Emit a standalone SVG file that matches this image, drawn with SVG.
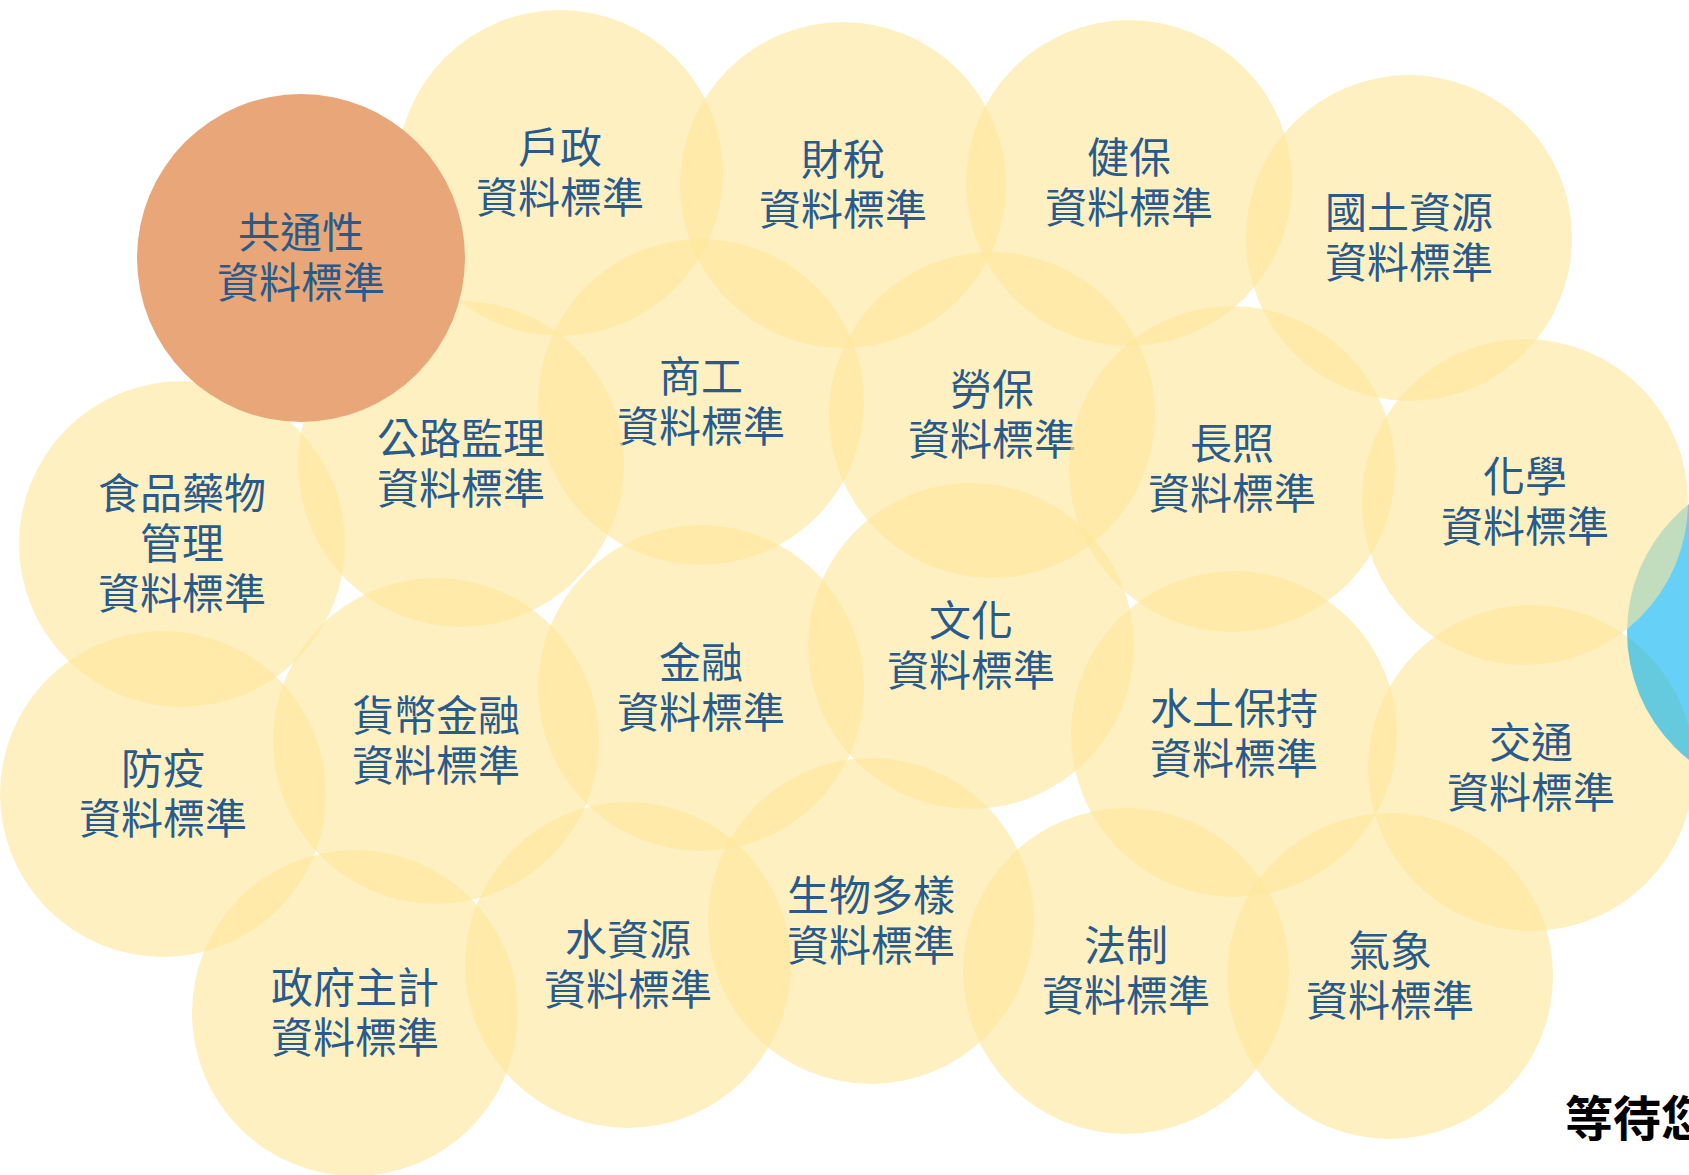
<svg xmlns="http://www.w3.org/2000/svg" width="1689" height="1175" viewBox="0 0 1689 1175">
<style>
.c{fill:#FFE699;fill-opacity:0.6}
.o{fill:#E9A779}
.b{fill:#00B0F0;fill-opacity:0.6}
.t{font-family:"Noto Sans CJK TC","Noto Sans CJK SC",sans-serif;font-size:42px;fill:#285A8C;text-anchor:middle}
.w{font-family:"Noto Sans CJK TC","Noto Sans CJK SC",sans-serif;font-size:48px;font-weight:bold;fill:#000}
</style>
<rect width="1689" height="1175" fill="#fff"/>
<g id="n-huzheng"><circle class="c" cx="560" cy="173" r="163"/><text class="t" x="560" y="163">戶政</text><text class="t" x="560" y="213">資料標準</text></g>
<g id="n-caishui"><circle class="c" cx="843" cy="185" r="163"/><text class="t" x="843" y="175">財稅</text><text class="t" x="843" y="225">資料標準</text></g>
<g id="n-jianbao"><circle class="c" cx="1129" cy="183" r="163"/><text class="t" x="1129" y="173">健保</text><text class="t" x="1129" y="223">資料標準</text></g>
<g id="n-guotu"><circle class="c" cx="1409" cy="238" r="163"/><text class="t" x="1409" y="228">國土資源</text><text class="t" x="1409" y="278">資料標準</text></g>
<g id="n-shanggong"><circle class="c" cx="701" cy="402" r="163"/><text class="t" x="701" y="392">商工</text><text class="t" x="701" y="442">資料標準</text></g>
<g id="n-laobao"><circle class="c" cx="992" cy="415" r="163"/><text class="t" x="992" y="405">勞保</text><text class="t" x="992" y="455">資料標準</text></g>
<g id="n-changzhao"><circle class="c" cx="1232" cy="469" r="163"/><text class="t" x="1232" y="459">長照</text><text class="t" x="1232" y="509">資料標準</text></g>
<g id="n-gonglu"><circle class="c" cx="461" cy="464" r="163"/><text class="t" x="461" y="454">公路監理</text><text class="t" x="461" y="504">資料標準</text></g>
<g id="n-shipin"><circle class="c" cx="182" cy="544" r="163"/><text class="t" x="182" y="509">食品藥物</text><text class="t" x="182" y="559">管理</text><text class="t" x="182" y="609">資料標準</text></g>
<g id="n-wenhua"><circle class="c" cx="971" cy="646" r="163"/><text class="t" x="971" y="636">文化</text><text class="t" x="971" y="686">資料標準</text></g>
<g id="n-jinrong"><circle class="c" cx="701" cy="688" r="163"/><text class="t" x="701" y="678">金融</text><text class="t" x="701" y="728">資料標準</text></g>
<g id="n-huobi"><circle class="c" cx="436" cy="741" r="163"/><text class="t" x="436" y="731">貨幣金融</text><text class="t" x="436" y="781">資料標準</text></g>
<g id="n-shuitu"><circle class="c" cx="1234" cy="734" r="163"/><text class="t" x="1234" y="724">水土保持</text><text class="t" x="1234" y="774">資料標準</text></g>
<g id="n-jiaotong"><circle class="c" cx="1531" cy="768" r="163"/><text class="t" x="1531" y="758">交通</text><text class="t" x="1531" y="808">資料標準</text></g>
<g id="n-waiting"><circle class="b" cx="1790" cy="632" r="163"/></g>
<g id="n-huaxue"><circle class="c" cx="1525" cy="502" r="163"/><text class="t" x="1525" y="492">化學</text><text class="t" x="1525" y="542">資料標準</text></g>
<g id="n-fangyi"><circle class="c" cx="163" cy="794" r="163"/><text class="t" x="163" y="784">防疫</text><text class="t" x="163" y="834">資料標準</text></g>
<g id="n-zhengfu"><circle class="c" cx="355" cy="1013" r="163"/><text class="t" x="355" y="1003">政府主計</text><text class="t" x="355" y="1053">資料標準</text></g>
<g id="n-shuiziyuan"><circle class="c" cx="628" cy="965" r="163"/><text class="t" x="628" y="955">水資源</text><text class="t" x="628" y="1005">資料標準</text></g>
<g id="n-shengwu"><circle class="c" cx="871" cy="921" r="163"/><text class="t" x="871" y="911">生物多樣</text><text class="t" x="871" y="961">資料標準</text></g>
<g id="n-fazhi"><circle class="c" cx="1126" cy="971" r="163"/><text class="t" x="1126" y="961">法制</text><text class="t" x="1126" y="1011">資料標準</text></g>
<g id="n-qixiang"><circle class="c" cx="1390" cy="976" r="163"/><text class="t" x="1390" y="966">氣象</text><text class="t" x="1390" y="1016">資料標準</text></g>
<g id="n-gongtong"><circle class="o" cx="301" cy="258" r="164"/><text class="t" x="301" y="248">共通性</text><text class="t" x="301" y="298">資料標準</text></g>
<g id="connectors"></g>
<text class="w" x="1565" y="1136">等待您</text>
</svg>
